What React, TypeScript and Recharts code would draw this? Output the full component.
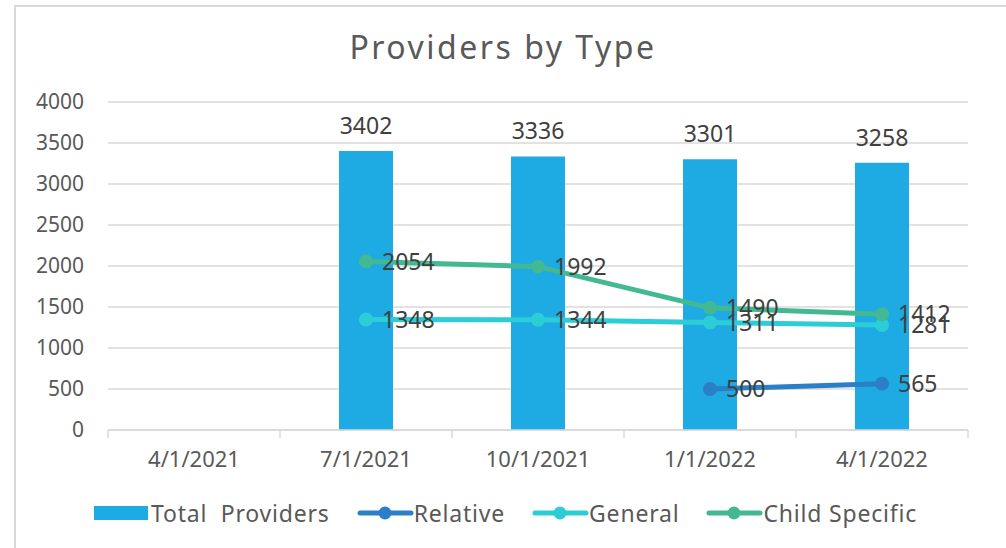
import {
  ComposedChart,
  Bar,
  Line,
  XAxis,
  YAxis,
  CartesianGrid,
  LabelList,
  Legend,
} from "recharts";

// ---------------------------------------------------------------------------
// Data
// ---------------------------------------------------------------------------

const quarters = ["4/1/2021", "7/1/2021", "10/1/2021", "1/1/2022", "4/1/2022"];
const totalProviders = [null, 3402, 3336, 3301, 3258];
const relative = [null, null, null, 500, 565];
const general = [null, 1348, 1344, 1311, 1281];
const childSpecific = [null, 2054, 1992, 1490, 1412];
const yTicks = [0, 500, 1000, 1500, 2000, 2500, 3000, 3500, 4000];

const data = quarters.map((q, i) => ({
  quarter: q,
  total: totalProviders[i],
  relative: relative[i],
  general: general[i],
  child: childSpecific[i],
}));

// ---------------------------------------------------------------------------
// Styles
// ---------------------------------------------------------------------------

const FONT = "'Noto Sans', sans-serif";
const TEXT = "#595959";
const LABEL = "#404040";
const GRID = "#D9D9D9";
const COLORS = {
  total: "#1EAAE2",
  relative: "#2A7FC6",
  general: "#2BCDD7",
  child: "#43B993",
};

const WIDTH = 1006;
const HEIGHT = 548;
const LEGEND_H = 30;
const MARGIN = { top: 102, right: 38, bottom: 58, left: 20 };
const Y_WIDTH = 88;
const PLOT_LEFT = MARGIN.left + Y_WIDTH;
const PLOT_WIDTH = WIDTH - PLOT_LEFT - MARGIN.right;
const BAND = PLOT_WIDTH / quarters.length;

// x tick: label plus Excel-style tick marks between categories
function XTick(props: any) {
  const { x, y, payload, index } = props;
  const left = x - BAND / 2;
  return (
    <g>
      <line x1={left} x2={left} y1={y - 8} y2={y} stroke={GRID} strokeWidth={1.5} />
      {index === quarters.length - 1 && (
        <line x1={left + BAND} x2={left + BAND} y1={y - 8} y2={y} stroke={GRID} strokeWidth={1.5} />
      )}
      <text
        x={x}
        y={y + 29}
        textAnchor="middle"
        fill={TEXT}
        fontSize={22}
        fontFamily={FONT}
      >
        {payload.value}
      </text>
    </g>
  );
}

const legendItems = [
  { key: "total", name: "Total  Providers", type: "bar" },
  { key: "relative", name: "Relative", type: "line" },
  { key: "general", name: "General", type: "line" },
  { key: "child", name: "Child Specific", type: "line" },
];

function LegendContent() {
  return (
    <div
      style={{
        display: "flex",
        alignItems: "center",
        gap: 27,
        height: LEGEND_H,
        fontFamily: FONT,
        fontSize: 23,
        letterSpacing: 0.8,
        color: TEXT,
        whiteSpace: "pre",
      }}
    >
      {legendItems.map((item) => {
        const c = COLORS[item.key as keyof typeof COLORS];
        return (
          <div key={item.key} style={{ display: "flex", alignItems: "center" }}>
            <svg width={57} height={20}>
              {item.type === "bar" ? (
                <rect x={0} y={3} width={54} height={14} fill={c} />
              ) : (
                <>
                  <line x1={3} x2={54} y1={10} y2={10} stroke={c} strokeWidth={5} strokeLinecap="round" />
                  <circle cx={28} cy={10} r={6.5} fill={c} />
                </>
              )}
            </svg>
            <span>{item.name}</span>
          </div>
        );
      })}
    </div>
  );
}

const lineLabel = {
  position: "right" as const,
  offset: 16,
  fill: LABEL,
  fontSize: 23,
  fontFamily: FONT,
};

// ---------------------------------------------------------------------------
// Component
// ---------------------------------------------------------------------------

export default function App() {
  return (
    <div
      style={{
        position: "absolute",
        left: 0,
        top: 0,
        width: WIDTH,
        height: HEIGHT,
        background: "#fff",
        overflow: "hidden",
      }}
    >
      <div
        style={{
          position: "absolute",
          left: 14,
          top: 5,
          width: WIDTH,
          height: HEIGHT,
          borderLeft: "2px solid #D9D9D9",
          borderTop: "2px solid #D9D9D9",
        }}
      />
      <div
        style={{
          position: "absolute",
          left: 0,
          top: 25,
          width: WIDTH,
          textAlign: "center",
          fontFamily: FONT,
          fontSize: 32,
          letterSpacing: 2.5,
          color: TEXT,
        }}
      >
        Providers by Type
      </div>
      <ComposedChart
        width={WIDTH}
        height={HEIGHT}
        data={data}
        margin={MARGIN}
        barCategoryGap={(BAND - 54) / 2}
        style={{ position: "absolute", left: 0, top: 0 }}
      >
        <CartesianGrid vertical={false} stroke={GRID} strokeWidth={1.5} />
        <XAxis
          dataKey="quarter"
          axisLine={{ stroke: GRID, strokeWidth: 1.5 }}
          tickLine={false}
          tick={<XTick />}
          interval={0}
        />
        <YAxis
          width={Y_WIDTH}
          domain={[0, 4000]}
          ticks={yTicks}
          axisLine={false}
          tickLine={false}
          tickMargin={18}
          tick={{ fill: TEXT, fontSize: 21, fontFamily: FONT }}
        />
        <Legend
          verticalAlign="bottom"
          content={<LegendContent />}
          wrapperStyle={{ left: 94, bottom: 20, width: 900, height: LEGEND_H }}
        />
        <Bar
          dataKey="total"
          name="Total  Providers"
          fill={COLORS.total}
          barSize={54}
          isAnimationActive={false}
        >
          <LabelList
            dataKey="total"
            position="top"
            offset={17}
            fill={LABEL}
            fontSize={23}
            fontFamily={FONT}
          />
        </Bar>
        <Line
          dataKey="relative"
          name="Relative"
          stroke={COLORS.relative}
          strokeWidth={5}
          dot={{ r: 7, fill: COLORS.relative, stroke: COLORS.relative, strokeWidth: 0 }}
          isAnimationActive={false}
        >
          <LabelList dataKey="relative" {...lineLabel} />
        </Line>
        <Line
          dataKey="general"
          name="General"
          stroke={COLORS.general}
          strokeWidth={5}
          dot={{ r: 7, fill: COLORS.general, stroke: COLORS.general, strokeWidth: 0 }}
          isAnimationActive={false}
        >
          <LabelList dataKey="general" {...lineLabel} />
        </Line>
        <Line
          dataKey="child"
          name="Child Specific"
          stroke={COLORS.child}
          strokeWidth={5}
          dot={{ r: 7, fill: COLORS.child, stroke: COLORS.child, strokeWidth: 0 }}
          isAnimationActive={false}
        >
          <LabelList dataKey="child" {...lineLabel} />
        </Line>
      </ComposedChart>
    </div>
  );
}
